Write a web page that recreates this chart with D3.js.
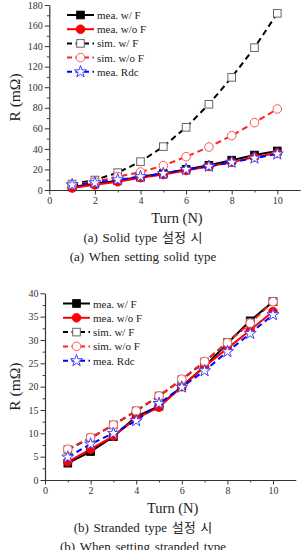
<!DOCTYPE html>
<html><head><meta charset="utf-8">
<script src="https://cdn.jsdelivr.net/npm/d3@7"></script>
<style>body{margin:0;background:#fff}svg{display:block}
svg text{font-family:"Liberation Serif","DejaVu Serif","Times New Roman",serif}
svg text.kr{font-family:"Liberation Serif","Noto Sans CJK KR",serif}
</style>
</head><body>
<svg id="c" width="304" height="550"></svg>
<script>
const turns = [1,2,3,4,5,6,7,8,9,10];
const seriesNames = ["mea. w/ F","mea. w/o F","sim. w/ F","sim. w/o F","mea. Rdc"];
// (a) Solid type
const solidMeaWF  = [3, 6, 9, 13, 16, 20, 24, 29, 34, 38];
const solidMeaWoF = [2, 5, 8, 12, 15, 19, 23, 27, 32, 36];
const solidSimWF  = [5.8, 9.7, 16.9, 27.6, 42.2, 61, 83.4, 109.6, 138.5, 171.9];
const solidSimWoF = [5.5, 8, 13, 17.5, 23.7, 32.4, 41.8, 52.9, 65.5, 78.8];
const solidRdc    = [5, 7, 10, 13, 16, 20, 23, 27, 31, 35];
// (b) Stranded type
const strMeaWF  = [3.6, 6.1, 9.3, 13.6, 15.8, 20.1, 24.3, 29.3, 34.1, 38.2];
const strMeaWoF = [3.9, 6.6, 9.4, 13.2, 15.6, 20, 24.3, 28.2, 32.1, 36.1];
const strSimWF  = [6.5, 9, 11.8, 14.8, 18, 21.5, 25.3, 29.5, 33.7, 38.3];
const strSimWoF = [6.6, 9.1, 11.8, 14.8, 18, 21.6, 25.4, 29.4, 33.6, 38.2];
const strRdc    = [4.9, 7.7, 10, 12.7, 16.4, 19.9, 23.4, 27.5, 31.4, 35.4];
const xTicks = [0,2,4,6,8,10];
const yTicksA = [0,20,40,60,80,100,120,140,160,180];
const yTicksB = [0,5,10,15,20,25,30,35,40];
const xLabel = "Turn (N)";
const yLabel = "R (mΩ)";
const captionsA = ["(a)  Solid type 설정 시","(a)  When setting solid type"];
const captionsB = ["(b)  Stranded type 설정 시","(b)  When setting stranded type"];

const styles = [
  {color:"#000", dash:null, marker:"sq", fill:"#000", stroke:"#000"},
  {color:"#f00", dash:null, marker:"ci", fill:"#f00", stroke:"#f00"},
  {color:"#000", dash:"6,4", marker:"sq", fill:"#fff", stroke:"#666"},
  {color:"#f22", dash:"6,4", marker:"ci", fill:"#fff", stroke:"#f55"},
  {color:"#00f", dash:"6,4", marker:"st", fill:"#fff", stroke:"#44f"}
];
const svg = d3.select("#c");

function marker(g, type, x, y, s){
  if(type==="sq") return g.append("rect").attr("x",x-3.8).attr("y",y-3.8).attr("width",7.6).attr("height",7.6)
    .attr("fill",s.fill).attr("stroke",s.stroke).attr("stroke-width",1);
  if(type==="ci") return g.append("circle").attr("cx",x).attr("cy",y).attr("r",4.3)
    .attr("fill",s.fill).attr("stroke",s.stroke).attr("stroke-width",1);
  return g.append("path").attr("d",d3.symbol(d3.symbolStar,45)()).attr("transform",`translate(${x},${y})`)
    .attr("fill",s.fill).attr("stroke",s.stroke).attr("stroke-width",1);
}

function panel(o){
  const g = svg.append("g");
  const x = d3.scaleLinear().domain([0,11]).range([o.left, o.left+250.8]);
  const y = d3.scaleLinear().domain([0,o.ymax]).range([o.bottom, o.top]);
  const xMinor = d3.range(1,11,2);
  g.append("g").attr("transform",`translate(0,${o.bottom})`)
    .call(d3.axisBottom(x).tickValues(xMinor).tickSize(2.5).tickFormat(""))
    .call(a=>a.select(".domain").remove()).selectAll("line").attr("stroke","#444");
  const yMinor = d3.range(o.ystep/2, o.ymax, o.ystep);
  g.append("g").attr("transform",`translate(${o.left},0)`)
    .call(d3.axisLeft(y).tickValues(yMinor).tickSize(2.5).tickFormat(""))
    .call(a=>a.select(".domain").remove()).selectAll("line").attr("stroke","#444");
  const xa = g.append("g").attr("transform",`translate(0,${o.bottom})`)
    .call(d3.axisBottom(x).tickValues(xTicks).tickSize(4.5).tickSizeOuter(0).tickPadding(2));
  const ya = g.append("g").attr("transform",`translate(${o.left},0)`)
    .call(d3.axisLeft(y).tickValues(o.yTicks).tickSize(4.5).tickSizeOuter(0).tickPadding(2));
  [xa,ya].forEach(a=>{
    a.attr("font-family",null);
    a.select(".domain").attr("stroke","#333").attr("stroke-width",1.2);
    a.selectAll("line").attr("stroke","#333");
    a.selectAll("text").attr("font-size","10px").attr("fill","#333");
  });
  const line = d3.line().x((d,i)=>x(turns[i])).y(d=>y(d));
  o.data.forEach((vals,k)=>{
    const s = styles[k];
    g.append("path").attr("d",line(vals)).attr("fill","none").attr("stroke",s.color)
      .attr("stroke-width",2).attr("stroke-dasharray",s.dash);
  });
  o.data.forEach((vals,k)=>{
    const s = styles[k];
    vals.forEach((v,i)=>marker(g,s.marker,x(turns[i]),y(v),s));
  });
  seriesNames.forEach((n,k)=>{
    const s = styles[k];
    const ly = o.legY + k*o.legDy;
    g.append("line").attr("x1",o.legX).attr("x2",o.legX+27).attr("y1",ly).attr("y2",ly)
      .attr("stroke",s.color).attr("stroke-width",2).attr("stroke-dasharray",s.dash?"5,3.5":null);
    marker(g,s.marker,o.legX+13.5,ly,s);
    g.append("text").attr("x",o.legX+30).attr("y",ly+4).text(n)
      .attr("font-size","11px").attr("fill","#222");
  });
  g.append("text").attr("transform",`translate(${o.yLabX},${(o.top+o.bottom)/2}) rotate(-90)`)
    .attr("text-anchor","middle").text(yLabel).attr("font-size","15.5px").attr("fill","#222");
  g.append("text").attr("x",x(5.6)).attr("y",o.bottom+33).attr("text-anchor","middle").text(xLabel)
    .attr("font-size","14.5px").attr("fill","#222");
  o.captions.forEach((c,i)=>{
    g.append("text").attr("class","kr").attr("x",o.capX).attr("y",o.bottom+52+i*19).attr("text-anchor","middle").text(c)
      .attr("font-size","13px").attr("word-spacing","1.5px").attr("fill","#222");
  });
}

panel({left:49.3, top:5, bottom:190, ymax:180, ystep:20, yTicks:yTicksA,
  data:[solidMeaWF,solidMeaWoF,solidSimWF,solidSimWoF,solidRdc],
  legX:67, legY:15, legDy:14.2, yLabX:20, capX:143, captions:captionsA});
panel({left:45, top:293.3, bottom:480, ymax:40, ystep:5, yTicks:yTicksB,
  data:[strMeaWF,strMeaWoF,strSimWF,strSimWoF,strRdc],
  legX:63, legY:303.5, legDy:14.3, yLabX:20, capX:143, captions:captionsB});
</script>
</body></html>
